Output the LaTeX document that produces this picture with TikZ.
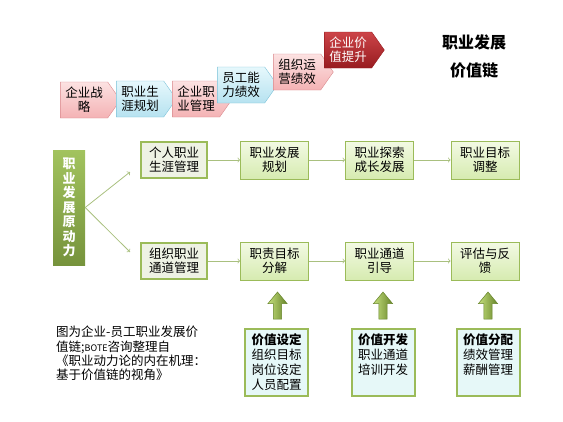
\documentclass[tikz,border=0pt]{standalone}
\usepackage{fontspec}
\setmainfont{Noto Sans CJK SC}
\usetikzlibrary{shapes.symbols}
\definecolor{pinkA}{HTML}{FCE2E2}
\definecolor{pinkB}{HTML}{F4B2B4}
\definecolor{pinkLine}{HTML}{D98A8E}
\definecolor{blueA}{HTML}{E6F8FC}
\definecolor{blueB}{HTML}{B6E2F0}
\definecolor{blueLine}{HTML}{7CC2D8}
\definecolor{redA}{HTML}{CC4448}
\definecolor{redB}{HTML}{981C20}
\definecolor{grnA}{HTML}{A2C35E}
\definecolor{grnB}{HTML}{76933C}
\definecolor{grnLine}{HTML}{9BBB59}
\definecolor{paleA}{HTML}{F3FAE4}
\definecolor{paleB}{HTML}{D6EBB0}
\definecolor{mgmt}{HTML}{EEF2E4}
\definecolor{cyanA}{HTML}{E6F8F8}
\definecolor{arrowC}{HTML}{A9C07F}
\definecolor{liftA}{HTML}{C4DE7C}
\definecolor{liftM}{HTML}{9CC245}
\definecolor{liftB}{HTML}{67852A}
\begin{document}
\begin{tikzpicture}[x=1pt,y=-1pt]
	\tikzstyle{every node}+=[inner sep=0pt,align=center,font=\fontsize{12.5}{14}\selectfont]
	\tikzstyle{stage}=[signal,signal to=east,signal pointer angle=110,minimum width=60,minimum height=36]
	\tikzstyle{pinkstage}=[stage,draw=pinkLine,top color=pinkA,bottom color=pinkB]
	\tikzstyle{bluestage}=[stage,draw=blueLine,top color=blueA,bottom color=blueB]
	\tikzstyle{step box}=[draw=grnLine,line width=0.8pt,top color=paleA,bottom color=paleB,minimum width=68,minimum height=38]
	\tikzstyle{mgmt box}=[draw=grnLine,line width=2pt,fill=mgmt,minimum width=66,minimum height=36]
	\tikzstyle{value box}=[draw=grnLine,line width=2pt,fill=cyanA,minimum width=63,minimum height=67,font=\fontsize{12.5}{15}\selectfont]
	\tikzstyle{up arrow}=[left color=liftA,middle color=liftM,right color=liftB,draw=liftB,line width=0.5pt]
	\tikzstyle{link}=[draw=arrowC,line width=0.8pt,->]
	\useasboundingbox (0,0) rectangle (563,421);
	\node[pinkstage] (strategy) at (84,100) {企业战\\略};
	\node[bluestage] (career) at (140,99) {职业生\\涯规划};
	\node[pinkstage] (corpmgmt) at (196,99) {企业职\\业管理};
	\node[bluestage] (ability) at (241,85) {员工能\\力绩效};
	\node[pinkstage] (operate) at (297,72) {组织运\\营绩效};
	\node[stage,draw=redB,top color=redA,bottom color=redB,text=white] (value) at (348,50) {企业价\\值提升};
	\node[font=\fontsize{16}{16}\selectfont\bfseries] (title1) at (474,42) {职业发展};
	\node[font=\fontsize{16}{16}\selectfont\bfseries] (title2) at (474,70) {价值链};
	\node[top color=grnA,bottom color=grnB,minimum width=32,minimum height=115,text=white,font=\fontsize{13}{14.5}\selectfont\bfseries] (source) at (69,207.5) {职\\业\\发\\展\\原\\动\\力};
	\node[mgmt box] (personal) at (174,160) {个人职业\\生涯管理};
	\node[step box] (plan) at (274.5,160) {职业发展\\规划};
	\node[step box] (explore) at (379.5,160) {职业探索\\成长发展};
	\node[step box] (adjust) at (485,160) {职业目标\\调整};
	\node[mgmt box] (org) at (174,261) {组织职业\\通道管理};
	\node[step box] (duty) at (274.5,261) {职责目标\\分解};
	\node[step box] (channel) at (379.5,261) {职业通道\\引导};
	\node[step box] (review) at (485,261) {评估与反\\馈};
	\coordinate (upper) at (130,172);
	\coordinate (lower) at (130,252);
	\draw[link] (source.east) -- (upper);
	\draw[link] (source.east) -- (lower);
	\draw[link] (personal) -- (plan);
	\draw[link] (plan) -- (explore);
	\draw[link] (explore) -- (adjust);
	\draw[link] (org) -- (duty);
	\draw[link] (duty) -- (channel);
	\draw[link] (channel) -- (review);
	\foreach \x in {277.5,383,488}
		\shadedraw[up arrow] (\x-4.2,319) -- (\x-4.2,303.5) -- (\x-9.5,303.5) -- (\x,292) -- (\x+9.5,303.5) -- (\x+4.2,303.5) -- (\x+4.2,319) -- cycle;
	\node[value box] (setting) at (276.5,362.5) {\textbf{价值设定}\\组织目标\\岗位设定\\人员配置};
	\node[value box] (develop) at (383,362.5) {\textbf{价值开发}\\职业通道\\培训开发\\\phantom{字}};
	\node[value box] (allocate) at (488,362.5) {\textbf{价值分配}\\绩效管理\\薪酬管理\\\phantom{字}};
	\node[anchor=north west,align=left,font=\fontsize{12.5}{14.3}\selectfont] (note) at (56,326) {图为企业-员工职业发展价\\值链;{\fontsize{9}{9}\selectfont BOTE}咨询整理自\\《职业动力论的内在机理：\\基于价值链的视角》};
\end{tikzpicture}
\end{document}
